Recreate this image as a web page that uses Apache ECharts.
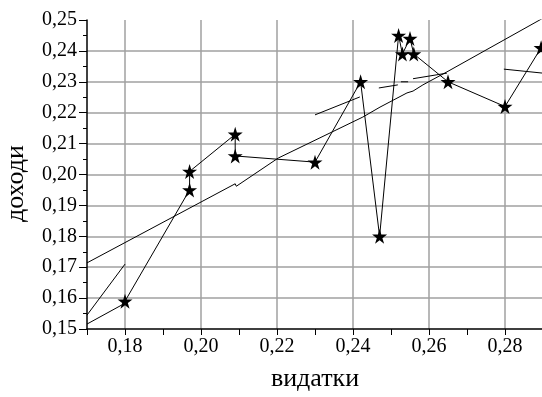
<!DOCTYPE html>
<html>
<head>
<meta charset="utf-8">
<script src="https://cdn.jsdelivr.net/npm/echarts@6/dist/echarts.min.js"></script>
<style>html,body{margin:0;padding:0;background:#fff}#c{width:542px;height:397px}</style>
</head>
<body>
<div id="c"></div>
<script>
// Observed points (видатки, доходи) in drawing order
var xValues = [0.180, 0.197, 0.197, 0.209, 0.209, 0.230, 0.242, 0.247, 0.252, 0.253, 0.255, 0.256, 0.265, 0.280, 0.2895];
var yValues = [0.159, 0.195, 0.201, 0.213, 0.206, 0.204, 0.230, 0.180, 0.245, 0.239, 0.244, 0.239, 0.230, 0.222, 0.241];
// Fitted (trend) line
var trendX = [0.170, 0.2090, 0.2093, 0.2203, 0.2426, 0.2471, 0.2542, 0.2558, 0.2584, 0.2647, 0.2900];
var trendY = [0.1714, 0.1970, 0.1962, 0.2053, 0.2186, 0.2218, 0.2264, 0.2270, 0.2290, 0.2332, 0.2506];
// Short band fragments [x1, y1, x2, y2]
var fragments = [
  [0.170, 0.1516, 0.1795, 0.1580],
  [0.170, 0.1545, 0.1800, 0.1710],
  [0.230, 0.2193, 0.2418, 0.2251],
  [0.2468, 0.2280, 0.2518, 0.2290],
  [0.2526, 0.2300, 0.2545, 0.2300],
  [0.2558, 0.2310, 0.2647, 0.2328],
  [0.2797, 0.2341, 0.2900, 0.2328]
];
var xTicks = {min: 0.17, max: 0.29, step: 0.01};
var yTicks = {min: 0.15, max: 0.25, step: 0.01};

var star = 'path://M50,0 L61,35 L98,35 L68,57 L79,91 L50,70 L21,91 L32,57 L2,35 L39,35 Z';
var font = 'Liberation Serif';
function fmt(v){ return v.toFixed(2).replace('.', ','); }

var series = [];
series.push({
  type: 'line',
  data: trendX.map(function(x, i){ return [x, trendY[i]]; }),
  showSymbol: false, symbol: 'none',
  lineStyle: {color: '#000', width: 1},
  z: 3, silent: true
});
fragments.forEach(function(f){
  series.push({
    type: 'line',
    data: [[f[0], f[1]], [f[2], f[3]]],
    showSymbol: false, symbol: 'none',
    lineStyle: {color: '#000', width: 1},
    z: 3, silent: true
  });
});
series.push({
  type: 'line',
  data: xValues.map(function(x, i){ return [x, yValues[i]]; }),
  symbol: star, symbolSize: 15,
  itemStyle: {color: '#000'},
  lineStyle: {color: '#000', width: 1},
  z: 4, silent: true
});

var chart = echarts.init(document.getElementById('c'), null, {renderer: 'canvas'});
chart.setOption({
  animation: false,
  backgroundColor: '#fff',
  grid: {left: 87, top: 20, width: 456, height: 309, containLabel: false, outerBoundsMode: 'none'},
  xAxis: {
    type: 'value', min: xTicks.min, max: xTicks.max, interval: xTicks.step,
    name: 'видатки', nameLocation: 'middle', nameGap: 37,
    nameTextStyle: {fontFamily: font, fontSize: 26, color: '#000'},
    axisLine: {show: true, onZero: false, lineStyle: {color: '#000', width: 1.5}},
    axisTick: {show: true, length: 6, lineStyle: {color: '#000', width: 1}},
    axisLabel: {
      fontFamily: font, fontSize: 20, color: '#000', margin: 8,
      formatter: function(v){ var k = Math.round(v*100); return (k % 2 === 0) ? fmt(v) : ''; }
    },
    splitLine: {show: true, showMinLine: true, showMaxLine: true,
      lineStyle: {color: ['rgba(0,0,0,0)', '#a0a0a0'], width: 1.5}}
  },
  yAxis: {
    type: 'value', min: yTicks.min, max: yTicks.max, interval: yTicks.step,
    name: 'доходи', nameLocation: 'middle', nameGap: 58,
    nameTextStyle: {fontFamily: font, fontSize: 26, color: '#000', padding: [0, 18, 0, 0]},
    axisLine: {show: true, onZero: false, lineStyle: {color: '#000', width: 1.5}},
    axisTick: {show: true, length: 8, lineStyle: {color: '#000', width: 1}},
    minorTick: {show: true, splitNumber: 2, length: 4, lineStyle: {color: '#000', width: 1}},
    axisLabel: {fontFamily: font, fontSize: 20, color: '#000', margin: 10, formatter: fmt},
    splitLine: {show: true, showMinLine: false, showMaxLine: false,
      lineStyle: {color: '#a0a0a0', width: 1.5}}
  },
  series: series
});
</script>
</body>
</html>
